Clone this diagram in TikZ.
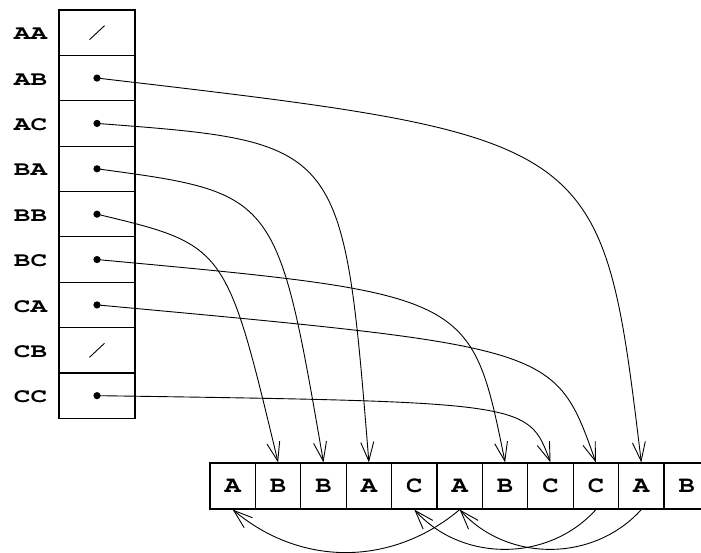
\documentclass[tikz,border=0pt]{standalone}
\usepackage[T1]{fontenc}
\usepackage{graphicx}
\usetikzlibrary{arrows.meta}

% widened bold Courier for the keys and the text cells
\newcommand\keytext[1]{\scalebox{1.38}[1]{#1}}
\newcommand\celltext[1]{\scalebox{1.18}[1]{#1}}

\tikzset{
  keylabel/.style={font=\fontfamily{pcr}\fontseries{b}\fontsize{20}{22}\selectfont,
                   inner sep=0pt, anchor=center},
  headbox/.style={draw, line width=1.2pt, minimum width=76pt, minimum height=45.37pt,
                  inner sep=0pt},
  textbox/.style={draw, line width=1.2pt, minimum width=45.4pt, minimum height=46pt,
                  inner sep=0pt,
                  font=\fontfamily{pcr}\fontseries{b}\fontsize{23}{25}\selectfont},
  ptrdot/.style={circle, fill, inner sep=0pt, minimum size=7.2pt},
  ptr/.style={line width=0.9pt, -{Straight Barb[length=19pt,width=13pt]}},
  nullslash/.style={line width=0.9pt},
}

\begin{document}
\begin{tikzpicture}[x=1pt, y=-1pt]
  \useasboundingbox (0,0) rectangle (701,552);

  % head table: one slot per two-letter key
  \foreach \k [count=\i from 0] in {AA,AB,AC,BA,BB,BC,CA,CB,CC} {
    \node[headbox] (h\k) at (97, {10+45.37*(\i+0.5)}) {};
    \node[keylabel] (k\k) at (30.5, {10+45.37*(\i+0.5)+1.5}) {\keytext{\k}};
  }

  % empty slots
  \draw[nullslash] (hAA.center) ++(-7.5,7) -- ++(15,-14);
  \draw[nullslash] (hCB.center) ++(-7.5,7) -- ++(15,-14);

  % pointer origins
  \foreach \k in {AB,AC,BA,BB,BC,CA,CC}
    \node[ptrdot] (d\k) at (h\k.center) {};

  % the text, one character per cell
  \foreach \c [count=\i from 0] in {A,B,B,A,C,A,B,C,C,A,B}
    \node[textbox] (t\i) at ({210+45.4*(\i+0.5)}, 486) {\celltext{\c}};

  % head pointers into the text
  \draw[ptr] (dAB.center) .. controls (602,137) .. (t9.north);
  \draw[ptr] (dAC.center) .. controls (343,142) .. (t3.north);
  \draw[ptr] (dBA.center) .. controls (277,193) .. (t2.north);
  \draw[ptr] (dBB.center) .. controls (226,245) .. (t1.north);
  \draw[ptr] (dBC.center) .. controls (471,294) .. (t6.north);
  \draw[ptr] (dCA.center) .. controls (555,347) .. (t8.north);
  \draw[ptr] (dCC.center) .. controls (528,402) .. (t7.north);

  % chain links to earlier occurrences
  \draw[ptr] (t5.south) .. controls +(-68.1,57.1) and +(68.1,57.1) .. (t0.south);
  \draw[ptr] (t8.south) .. controls +(-47.6,52.8) and +(47.6,52.8) .. (t4.south);
  \draw[ptr] (t9.south) .. controls +(-47.6,52.8) and +(47.6,52.8) .. (t5.south);
\end{tikzpicture}
\end{document}
